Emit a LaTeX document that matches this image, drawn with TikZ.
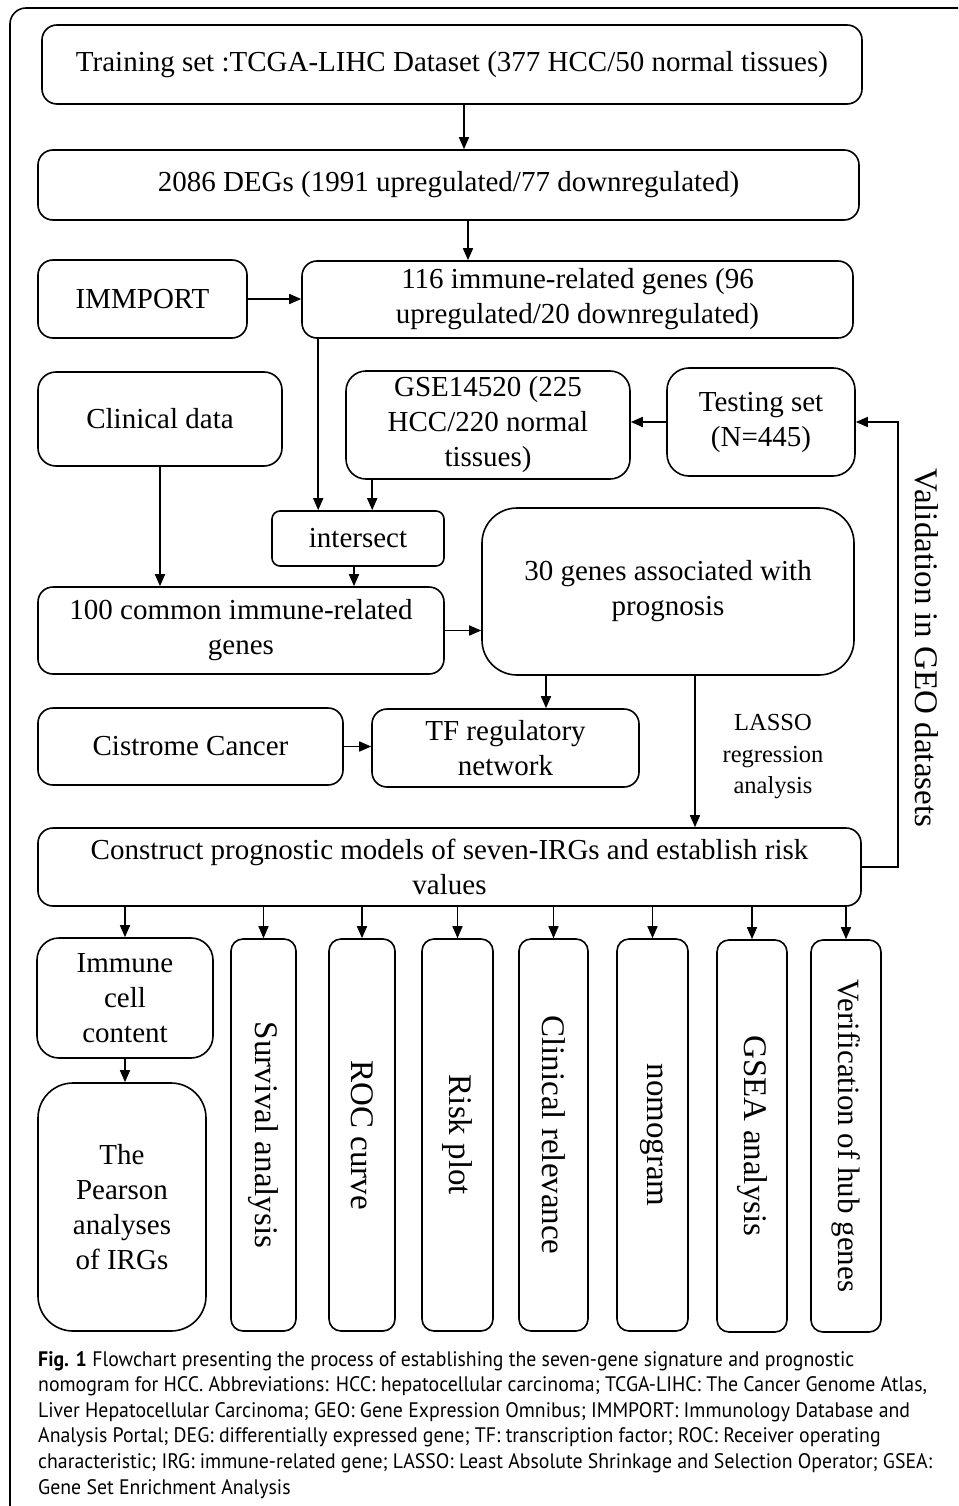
\documentclass[tikz,border=0pt]{standalone}
\usepackage{fontspec}
\setmainfont{Liberation Serif}
\newfontfamily\capfont[FakeStretch=0.943]{PT Sans}
\usepackage{graphicx}
\usetikzlibrary{arrows.meta}

\begin{document}
\begin{tikzpicture}[
    x=1pt, y=-1pt,
    box/.style={rectangle, draw, line width=1.6pt, rounded corners=15pt, align=center, inner sep=0pt, font=\fontsize{29}{35}\selectfont},
    vbox/.style={box, rounded corners=12pt, minimum height=392pt, font=\fontsize{33}{38}\selectfont},
    arrow/.style={->, >={Triangle[length=12pt, width=10pt]}, line width=1.6pt}
]
\useasboundingbox (0,0) rectangle (958,1506);

% outer frame
\draw[line width=1.6pt, rounded corners=16pt] (10,1506) |- (958,8);

% training set and DEGs
\node[box, minimum width=820pt, minimum height=79pt] (train) at (452, 64.5) {Training set :TCGA-LIHC Dataset (377 HCC/50 normal tissues)};
\node[box, minimum width=821pt, minimum height=70pt] (degs) at (448.5, 185) {2086 DEGs (1991 upregulated/77 downregulated)};
\node[box, minimum width=209pt, minimum height=78pt] (immport) at (142.5, 299) {IMMPORT};
\node[box, minimum width=551pt, minimum height=77pt] (irg) at (577.5, 299.5) {116 immune-related genes (96\\upregulated/20 downregulated)};

% data sources and intersect
\node[box, rounded corners=18pt, minimum width=244pt, minimum height=94pt] (clin) at (160, 419) {Clinical data};
\node[box, rounded corners=20pt, minimum width=284pt, minimum height=108pt] (gse) at (488, 425) {GSE14520 (225\\HCC/220 normal\\tissues)};
\node[box, rounded corners=22pt, minimum width=188pt, minimum height=108pt] (test) at (761, 422) {Testing set\\(N=445)};
\node[box, rounded corners=8pt, minimum width=172pt, minimum height=55pt] (isect) at (358, 538.5) {intersect};
\node[box, rounded corners=35pt, minimum width=372pt, minimum height=167pt] (prog) at (668, 591.5) {30 genes associated with\\prognosis};
\node[box, minimum width=406pt, minimum height=87pt] (common) at (241, 630.5) {100 common immune-related\\genes};
\node[box, minimum width=305pt, minimum height=77pt] (cistrome) at (190.5, 746.5) {Cistrome Cancer};
\node[box, minimum width=267pt, minimum height=78pt] (tfnet) at (505.5, 748) {TF regulatory\\network};
\node[box, minimum width=823pt, minimum height=78pt] (model) at (449.5, 867) {Construct prognostic models of seven-IRGs and establish risk\\values};

% side labels
\node[font=\fontsize{24.5}{31.5}\selectfont, align=center] (lasso) at (773, 757) {LASSO\\regression\\analysis};
\node[font=\fontsize{33}{38}\selectfont, rotate=-90] (valid) at (927, 648) {Validation in GEO datasets};
\coordinate (vbend) at (898, 867);

% result boxes
\node[box, rounded corners=22pt, minimum width=176pt, minimum height=120pt] (immune) at (125, 998) {Immune\\cell\\content};
\node[box, rounded corners=35pt, minimum width=168pt, minimum height=248pt] (pearson) at (122, 1207) {The\\Pearson\\analyses\\of IRGs};
\node[vbox, minimum width=65pt] (surv) at (263.5, 1135) {\rotatebox{-90}{Survival analysis}};
\node[vbox, minimum width=66pt] (roc) at (362, 1135) {\rotatebox{-90}{ROC curve}};
\node[vbox, minimum width=71pt] (risk) at (457.5, 1135) {\rotatebox{-90}{Risk plot}};
\node[vbox, minimum width=69pt] (clinrel) at (553.5, 1135) {\rotatebox{-90}{Clinical relevance}};
\node[vbox, minimum width=71pt] (nomo) at (652.5, 1135) {\rotatebox{-90}{nomogram}};
\node[vbox, minimum width=70pt] (gsea) at (752, 1136) {\rotatebox{-90}{GSEA analysis}};
\node[vbox, minimum width=70pt, font=\fontsize{31}{36}\selectfont] (verify) at (846, 1136) {\rotatebox{-90}{Verification of hub genes}};

% caption
\node[anchor=north west, inner sep=0pt, align=left, font=\capfont\fontsize{21}{25.6}\selectfont] (caption) at (38, 1351) {\textbf{Fig. 1} Flowchart presenting the process of establishing the seven-gene signature and prognostic\\
nomogram for HCC. Abbreviations: HCC: hepatocellular carcinoma; TCGA-LIHC: The Cancer Genome Atlas,\\
Liver Hepatocellular Carcinoma; GEO: Gene Expression Omnibus; IMMPORT: Immunology Database and\\
Analysis Portal; DEG: differentially expressed gene; TF: transcription factor; ROC: Receiver operating\\
characteristic; IRG: immune-related gene; LASSO: Least Absolute Shrinkage and Selection Operator; GSEA:\\
Gene Set Enrichment Analysis};

% Arrows
\draw[arrow] ([xshift=12pt]train.south) -- ([xshift=12pt]train.south |- degs.north);
\draw[arrow] ([xshift=19.5pt]degs.south) -- ([xshift=19.5pt]degs.south |- irg.north);
\draw[arrow] (immport.east) -- (immport.east -| irg.west);
\draw[arrow] ([xshift=17pt]irg.south west) -- ([xshift=17pt]irg.south west |- isect.north);
\draw[arrow] ([xshift=27pt]gse.south west) -- ([xshift=27pt]gse.south west |- isect.north);
\draw[arrow] (test.west) -- (test.west -| gse.east);
\draw[arrow] (clin.south) -- (clin.south |- common.north);
\draw[arrow] ([xshift=-4pt]isect.south) -- ([xshift=-4pt]isect.south |- common.north);
\draw[arrow] (common.east) -- (common.east -| prog.west);
\draw[arrow] ([xshift=40.5pt]tfnet.north |- prog.south) -- ([xshift=40.5pt]tfnet.north);
\draw[arrow] (cistrome.east) -- (cistrome.east -| tfnet.west);
\draw[arrow] ([xshift=27pt]prog.south) -- ([xshift=27pt]prog.south |- model.north);
\draw[arrow] (model.east) -- (vbend) |- (test.east);
\draw[arrow] (immune.north |- model.south) -- (immune.north);
\draw[arrow] (surv.north |- model.south) -- (surv.north);
\draw[arrow] (roc.north |- model.south) -- (roc.north);
\draw[arrow] (risk.north |- model.south) -- (risk.north);
\draw[arrow] (clinrel.north |- model.south) -- (clinrel.north);
\draw[arrow] (nomo.north |- model.south) -- (nomo.north);
\draw[arrow] (gsea.north |- model.south) -- (gsea.north);
\draw[arrow] (verify.north |- model.south) -- (verify.north);
\draw[arrow] (immune.south) -- (immune.south |- pearson.north);

\end{tikzpicture}
\end{document}
